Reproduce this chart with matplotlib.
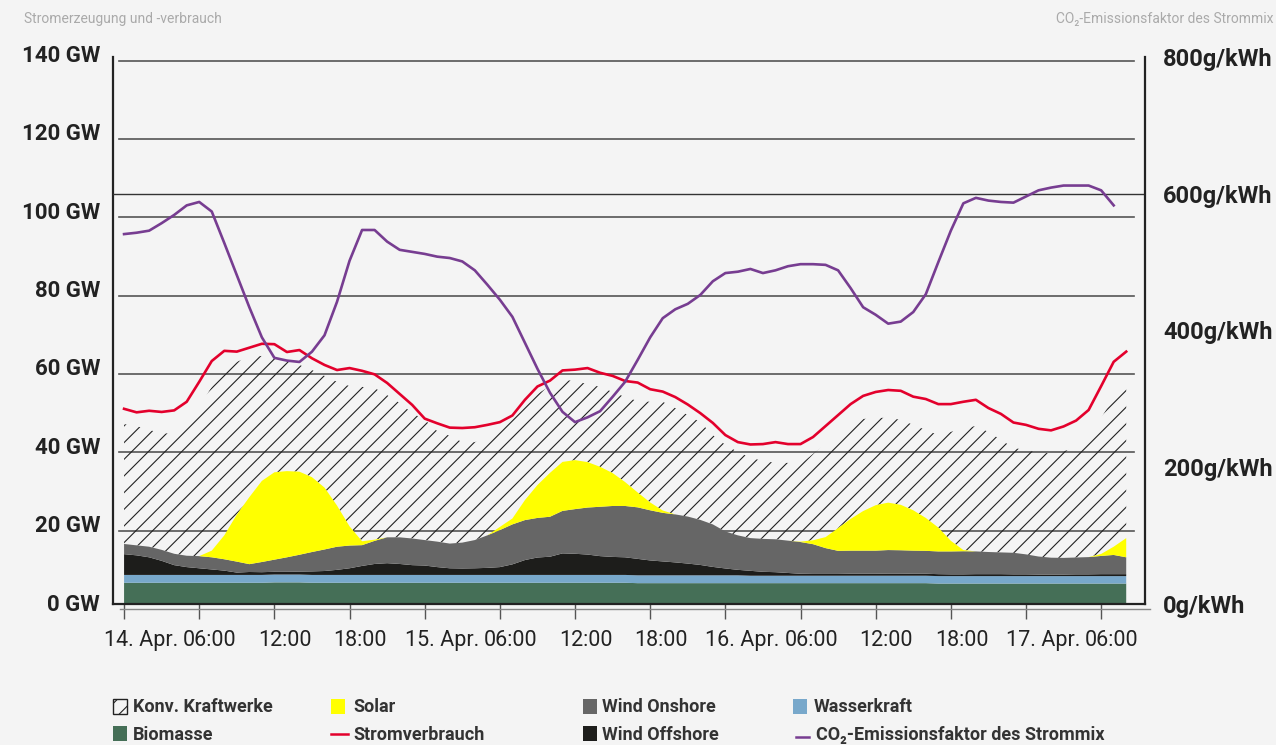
import matplotlib.pyplot as plt
import matplotlib.transforms as mtransforms
from matplotlib.patches import Rectangle
from matplotlib.lines import Line2D
import numpy as np

plt.rcParams['font.family'] = ['Roboto', 'DejaVu Sans']
plt.rcParams['hatch.linewidth'] = 0.8

# Stundenwerte 14.04. 00:00 bis 17.04. 08:00
zeit = np.arange('2019-04-14T00', '2019-04-17T09', dtype='datetime64[h]')

# GW
biomasse = [6.7] * 12 + [6.8, 6.8, 6.8] + [6.7] * 26 + [6.6] * 24 + [6.5] * 16
wasserkraft = [2.0] * 50 + [1.9] * 31
wind_offshore = [5.3, 5.0, 4.5, 3.6, 2.5, 2.0, 1.7, 1.4, 1.1, 0.6,
                 0.75, 0.7, 0.7, 0.7, 0.75, 0.9, 1.0, 1.3, 1.7, 2.3,
                 2.8, 3.0, 2.8, 2.5, 2.4, 2.0, 1.7, 1.65, 1.7, 1.8,
                 2.0, 2.7, 3.8, 4.45, 4.65, 5.5, 5.4, 5.2, 4.8, 4.6,
                 4.5, 4.2, 3.8, 3.55, 3.3, 3.0, 2.65, 2.15, 1.75, 1.4,
                 1.25, 1.0, 0.9, 0.7, 0.5, 0.45, 0.45, 0.45, 0.5, 0.5,
                 0.5, 0.55, 0.55, 0.5, 0.5, 0.5, 0.45, 0.45, 0.5, 0.5,
                 0.5, 0.45, 0.45, 0.4, 0.4, 0.4, 0.45, 0.45, 0.5, 0.5,
                 0.5]
wind_onshore = [2.6, 2.55, 2.7, 2.8, 2.9, 2.9, 3.1, 3.1, 2.9, 2.8,
                2.0, 2.6, 3.1, 3.7, 4.3, 4.95, 5.5, 5.9, 5.8, 5.3,
                5.9, 6.6, 6.8, 6.8, 6.5, 6.5, 6.3, 6.6, 7.2, 8.3,
                9.45, 10.2, 10.2, 10.1, 10.2, 10.85, 11.4, 12.0, 12.6, 13.0,
                13.1, 13.15, 12.8, 12.4, 12.25, 12.0, 11.5, 10.85, 9.45, 8.8,
                8.35, 8.4, 8.4, 8.25, 8.1, 7.6, 6.6, 5.9, 5.9, 5.9,
                5.9, 6.0, 5.95, 5.9, 5.85, 5.8, 5.85, 5.9, 5.8, 5.65,
                5.55, 5.5, 5.1, 4.6, 4.3, 4.25, 4.3, 4.4, 4.65, 4.9,
                4.3]
solar = [0, 0, 0, 0, 0, 0, 0, 1.7, 6.1, 12.0,
         17.1, 20.7, 22.3, 22.0, 21.2, 19.1, 15.8, 10.5, 4.9, 1.0,
         0.3, 0, 0, 0, 0, 0, 0, 0, 0, 0,
         0.8, 1.5, 5.1, 8.4, 11.2, 12.5, 12.5, 11.6, 10.2, 8.4,
         6.1, 3.8, 2.0, 0.6, 0, 0, 0, 0, 0, 0,
         0, 0, 0, 0, 0.1, 1.0, 2.8, 5.8, 8.1, 10.1,
         11.6, 12.1, 11.6, 10.3, 8.4, 6.1, 2.7, 0.3, 0, 0,
         0, 0, 0, 0, 0, 0, 0, 0, 0.5, 2.1,
         4.9]
# Gesamterzeugung inkl. konventioneller Kraftwerke (Oberkante der Schraffur)
gesamt = [47.2, 46.7, 45.7, 44.9, 44.7, 47.0, 51.6, 56.7, 61.0, 63.1,
          64.3, 64.6, 64.1, 63.3, 62.3, 61.0, 59.5, 58.0, 56.9, 56.7,
          56.4, 54.6, 52.6, 50.0, 48.3, 45.4, 44.2, 42.6, 42.6, 43.7,
          45.7, 49.3, 52.3, 54.9, 56.9, 58.5, 58.2, 57.4, 56.7, 55.4,
          54.1, 53.1, 52.9, 52.9, 51.3, 49.5, 47.7, 44.4, 41.9, 40.1,
          38.6, 37.8, 37.3, 37.3, 37.0, 39.6, 42.1, 45.2, 47.0, 48.5,
          48.8, 48.8, 48.3, 47.0, 45.7, 44.4, 45.2, 46.2, 46.7, 45.2,
          43.2, 41.1, 40.6, 39.8, 39.8, 40.3, 41.1, 43.2, 48.8, 53.9,
          57.2]
verbrauch = [51.1, 50.2, 50.6, 50.3, 50.7, 52.9, 58.0, 63.3, 65.9, 65.7,
             66.7, 67.7, 67.6, 65.6, 66.1, 64.0, 62.3, 61.0, 61.5, 60.8,
             59.9, 57.7, 54.9, 52.1, 48.6, 47.4, 46.3, 46.2, 46.4, 47.0,
             47.7, 49.4, 53.4, 56.8, 58.3, 60.9, 61.1, 61.5, 60.3, 59.5,
             58.2, 57.8, 56.1, 55.5, 54.1, 52.2, 50.0, 47.5, 44.4, 42.6,
             42.0, 42.1, 42.6, 42.1, 42.1, 43.9, 46.7, 49.5, 52.3, 54.4,
             55.4, 55.9, 55.7, 54.2, 53.6, 52.3, 52.3, 52.9, 53.4, 51.3,
             49.8, 47.6, 47.0, 46.0, 45.6, 46.6, 48.1, 50.8, 56.9, 63.1,
             65.7]
# g/kWh, bis 17.04. 07:00
co2 = [541, 543, 546, 557, 569, 583, 588, 574, 528, 481,
       434, 390, 360, 356, 354, 369, 393, 442, 502, 547,
       547, 530, 518, 515, 512, 508, 506, 501, 488, 467,
       445, 420, 382, 344, 309, 281, 266, 273, 282, 303,
       325, 357, 390, 418, 431, 439, 452, 472, 484, 486,
       490, 484, 488, 494, 497, 497, 496, 488, 462, 434,
       423, 410, 413, 427, 453, 500, 546, 586, 594, 590,
       588, 587, 596, 605, 609, 612, 612, 612, 605, 583]

x_labels = ['14. Apr.', '06:00', '12:00', '18:00', '15. Apr.', '06:00', '12:00',
            '18:00', '16. Apr.', '06:00', '12:00', '18:00', '17. Apr.', '06:00']
gw_ticks = [0, 20, 40, 60, 80, 100, 120, 140]
gw_labels = ['0 GW', '20 GW', '40 GW', '60 GW', '80 GW', '100 GW', '120 GW', '140 GW']
co2_ticks = [0, 200, 400, 600, 800]
co2_labels = ['0g/kWh', '200g/kWh', '400g/kWh', '600g/kWh', '800g/kWh']

W, H = 1276, 745
bg = '#f4f4f4'
c_bio, c_wasser, c_off, c_on, c_solar = '#456f57', '#78a8cb', '#1d1d1b', '#666666', '#ffff00'
c_rot, c_lila = '#e3002c', '#773d91'

fig = plt.figure(figsize=(W / 100, H / 100), dpi=100, facecolor=bg)
ax = fig.add_axes([113 / W, 141 / H, 1032 / W, 547 / H])
ax.set_facecolor(bg)

for v in gw_ticks[1:]:
    ax.axhline(v, xmin=6 / 1032, xmax=1021 / 1032, color='#555555', lw=1.2, zorder=0)

ax.stackplot(zeit, biomasse, wasserkraft, wind_offshore, wind_onshore, solar,
             colors=[c_bio, c_wasser, c_off, c_on, c_solar], linewidth=0, zorder=2)
erneuerbar = (np.array(biomasse) + np.array(wasserkraft) + np.array(wind_offshore)
              + np.array(wind_onshore) + np.array(solar))
ax.fill_between(zeit, erneuerbar, gesamt, facecolor='none', edgecolor='#222222',
                hatch='//', linewidth=0, zorder=1)
ax.plot(zeit, verbrauch, color=c_rot, lw=1.9, zorder=4)

ax.set_xlim(zeit[0] - np.timedelta64(53, 'm'), zeit[0] + np.timedelta64(81 * 60 + 30, 'm'))
ax.set_ylim(1.28, 140.9)
ax.set_yticks([])

for s in ['top', 'right']:
    ax.spines[s].set_visible(False)
for s in ['left', 'bottom']:
    ax.spines[s].set_color('#222222')
    ax.spines[s].set_linewidth(1.6)

ax.set_xticks(zeit[::6])
ax.set_xticklabels(x_labels, fontsize=15.5, color='#222222')
ax.tick_params(axis='x', length=11, width=1, color='#555555', pad=8)
for lab in ax.get_xticklabels():
    dx = -20 if 'Apr' in lab.get_text() else -16
    lab.set_horizontalalignment('left')
    lab.set_transform(lab.get_transform()
                      + mtransforms.ScaledTranslation(dx / 100, 0, fig.dpi_scale_trans))

fig.add_artist(Line2D([120 / W, 1150 / W], [(H - 609) / H] * 2, transform=fig.transFigure,
                      color='#888888', lw=1))

# linke Beschriftung etwas oberhalb der Gitterlinien
trans_l = (mtransforms.blended_transform_factory(fig.transFigure, ax.transData)
           + mtransforms.ScaledTranslation(0, 4.5 / 100, fig.dpi_scale_trans))
for v, lab in zip(gw_ticks, gw_labels):
    ax.text(100 / W, v, lab, transform=trans_l, ha='right', va='center',
            fontsize=16, fontweight='bold', color='#222222')

ax2 = ax.twinx()
ax2.set_ylim(0, 800)
ax2.axhline(600, color='#333333', lw=1.0, zorder=0)
ax2.plot(zeit[:len(co2)], co2, color=c_lila, lw=1.9, zorder=5)
ax2.set_yticks(co2_ticks, co2_labels, fontsize=17, fontweight='bold', color='#222222')
ax2.tick_params(axis='y', length=0, pad=13)
for s in ['top', 'left', 'bottom']:
    ax2.spines[s].set_visible(False)
ax2.spines['right'].set_color('#222222')
ax2.spines['right'].set_linewidth(1.6)

fig.text(24 / W, 1 - 19 / H, 'Stromerzeugung und -verbrauch', fontsize=10,
         color='#aaaaaa', ha='left', va='center')
fig.text(1273 / W, 1 - 19 / H, 'CO₂-Emissionsfaktor des Strommix', fontsize=10,
         color='#aaaaaa', ha='right', va='center')

# Legende
legende = [
    ('Konv. Kraftwerke', 'hatch', '#222222', 112.5, 133, 0),
    ('Solar', 'patch', c_solar, 331, 353, 0),
    ('Wind Onshore', 'patch', c_on, 582.5, 602, 0),
    ('Wasserkraft', 'patch', c_wasser, 793, 814, 0),
    ('Biomasse', 'patch', c_bio, 112.5, 133, 1),
    ('Stromverbrauch', 'line', c_rot, 331, 353, 1),
    ('Wind Offshore', 'patch', c_off, 582.5, 602, 1),
    ('CO₂-Emissionsfaktor des Strommix', 'line', c_lila, 795.5, 816, 1),
]
for text, art, farbe, xp, xt, reihe in legende:
    yc = 706 + 27.5 * reihe
    if art == 'line':
        x1 = xp + (17 if farbe == c_rot else 13.5)
        yl = yc if farbe == c_rot else yc + 3
        fig.add_artist(Line2D([xp / W, x1 / W], [1 - yl / H] * 2,
                              transform=fig.transFigure, color=farbe, lw=1.8))
    elif art == 'hatch':
        fig.add_artist(Rectangle((xp / W, 1 - (yc + 7.5) / H), 14 / W, 15 / H,
                                 transform=fig.transFigure, facecolor=bg,
                                 edgecolor=farbe, hatch='//', lw=1))
    else:
        fig.add_artist(Rectangle((xp / W, 1 - (yc + 7.5) / H), 14 / W, 15 / H,
                                 transform=fig.transFigure, facecolor=farbe, lw=0))
    fig.text(xt / W, 1 - (yc + 1.5) / H, text, fontsize=13, fontweight='bold',
             color='#333333', ha='left', va='center')

fig.savefig('out.png', dpi=100, facecolor=bg)
